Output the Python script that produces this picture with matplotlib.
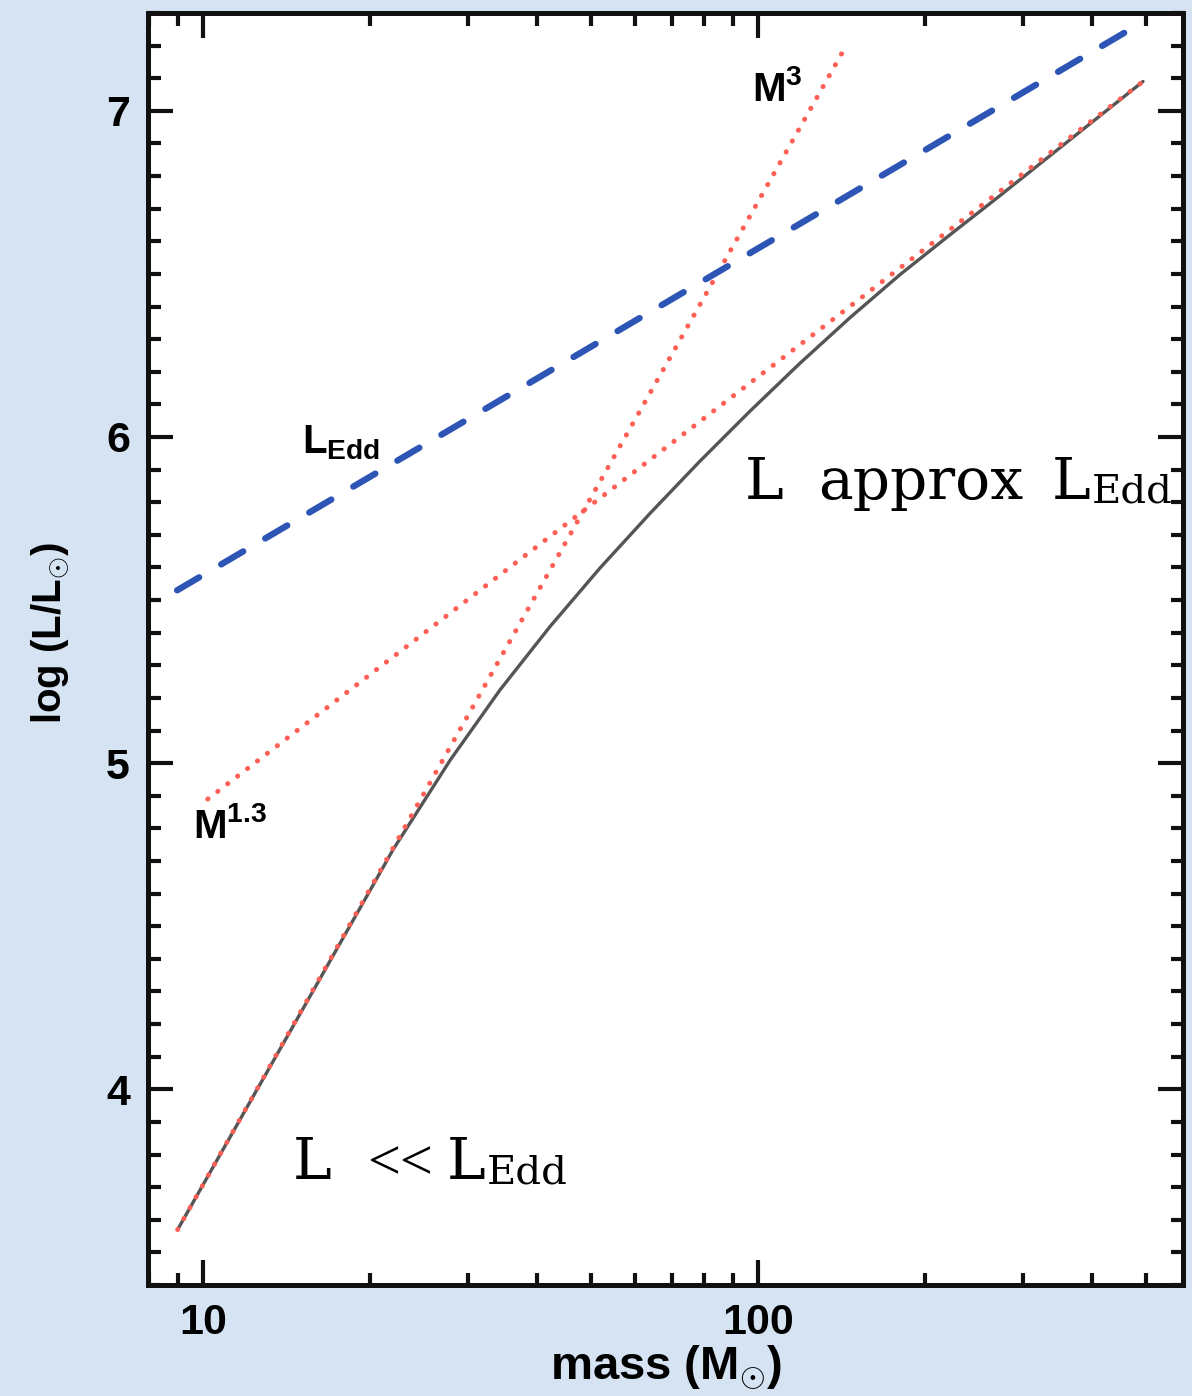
import matplotlib
matplotlib.use('Agg')
import matplotlib.pyplot as plt
from matplotlib.ticker import FixedLocator, FixedFormatter, LogLocator, MultipleLocator, NullFormatter

plt.rcParams['font.family'] = ['Liberation Sans', 'DejaVu Sans']
plt.rcParams['font.weight'] = 'bold'
plt.rcParams['mathtext.fontset'] = 'custom'
plt.rcParams['mathtext.rm'] = 'Liberation Sans'
plt.rcParams['mathtext.bf'] = 'Liberation Sans:bold'
plt.rcParams['mathtext.sf'] = 'Liberation Sans'

# model mass-luminosity track
track_mass = [9.0, 12.0, 15.0, 18.0, 20.0, 22.0, 27.9, 34.3, 42.2, 51.9, 63.9, 78.6,
              96.7, 119, 146.5, 180.3, 221.8, 272.9, 346, 494]
track_logL = [3.57, 3.945, 4.235, 4.473, 4.61, 4.735, 5.01, 5.225, 5.419, 5.598, 5.766,
              5.926, 6.079, 6.226, 6.366, 6.498, 6.62, 6.74, 6.88, 7.09]

# power-law guides
m3_mass = [9.0, 142]
m3_logL = [3.57, 7.18]
m13_mass = [10.2, 494]
m13_logL = [4.89, 7.09]

# Eddington luminosity
edd_mass = [8.98, 458]
edd_logL = [5.53, 7.24]

fig = plt.figure(figsize=(11.92, 13.96), dpi=100, facecolor='#d6e3f3')
ax = fig.add_axes([0.1242, 0.0795, 0.8682, 0.9112])
ax.set_facecolor('white')

ax.plot(track_mass, track_logL, color='#555555', lw=2.4, solid_capstyle='round',
        solid_joinstyle='round')
dots = dict(color='#ff6055', lw=3.6, linestyle=(0, (0.05, 2.45)), dash_capstyle='round')
ax.plot(m3_mass, m3_logL, **dots)
ax.plot(m13_mass, m13_logL, **dots)
ax.plot(edd_mass, edd_logL, color='#2d55b5', lw=4.6, linestyle=(0, (4.0, 4.0)),
        dash_capstyle='round')

ax.set_xscale('log')
ax.set_xlim(7.96, 583)
ax.set_ylim(3.40, 7.30)

ax.xaxis.set_major_locator(FixedLocator([10, 100]))
ax.xaxis.set_major_formatter(FixedFormatter(['10', '100']))
ax.xaxis.set_minor_locator(LogLocator(base=10, subs=range(2, 10), numticks=20))
ax.xaxis.set_minor_formatter(NullFormatter())
ax.yaxis.set_major_locator(MultipleLocator(1))
ax.yaxis.set_minor_locator(MultipleLocator(0.1))

ax.tick_params(which='both', direction='in', top=True, right=True,
               width=3, color='#111111')
ax.tick_params(which='major', length=18, labelsize=31, pad=13)
ax.tick_params(which='minor', length=9)
for lab in ax.get_xticklabels() + ax.get_yticklabels():
    lab.set_fontweight('bold')

for sp in ax.spines.values():
    sp.set_linewidth(3.6)
    sp.set_color('#111111')

ax.set_xlabel(r'mass (M$_{\odot}$)', fontsize=34, fontweight='bold', labelpad=0)
ax.set_ylabel(r'log (L/L$_{\odot}$)', fontsize=29, fontweight='bold')
ax.yaxis.set_label_coords(-0.074, 0.513)

ax.text(97.5, 7.03, r'$\mathbf{M}^{\mathbf{3}}$', fontsize=29, ha='left', va='baseline')
ax.text(15.1, 5.95, r'$\mathbf{L}_{\mathbf{Edd}}$', fontsize=29, ha='left', va='baseline')
ax.text(9.6, 4.77, r'$\mathbf{M}^{\mathbf{1.3}}$', fontsize=29, ha='left', va='baseline')

serif = dict(family='DejaVu Serif', fontweight='normal', color='black')

# "L  approx L_Edd"
ax.text(94.5, 5.81, 'L', fontsize=42, ha='left', va='baseline', **serif)
ax.text(128.3, 5.81, 'approx', fontsize=42, ha='left', va='baseline', **serif)
t1 = ax.text(338.6, 5.81, 'L', fontsize=42, ha='left', va='baseline', **serif)
ax.annotate('Edd', xy=(1, 0), xycoords=t1, xytext=(1, 0), textcoords='offset points',
            fontsize=29, ha='left', va='bottom', **serif)

# "L << L_Edd"
ax.text(14.53, 3.725, 'L', fontsize=42, ha='left', va='baseline', **serif)
ax.text(19.75, 3.725, '<<', fontsize=42, ha='left', va='baseline',
        family='Liberation Serif', fontweight='normal', color='black')
t2 = ax.text(27.5, 3.725, 'L', fontsize=42, ha='left', va='baseline', **serif)
ax.annotate('Edd', xy=(1, 0), xycoords=t2, xytext=(1, 0), textcoords='offset points',
            fontsize=29, ha='left', va='bottom', **serif)

fig.savefig('out.png', dpi=100, facecolor=fig.get_facecolor())
